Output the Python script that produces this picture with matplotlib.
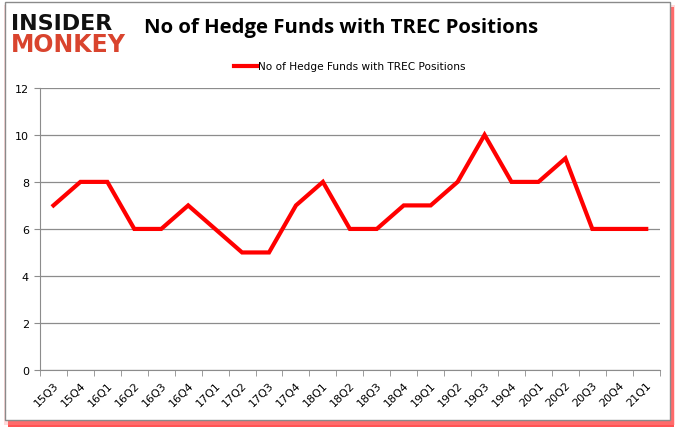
import matplotlib.pyplot as plt
from matplotlib.patches import Rectangle

quarters = ['15Q3', '15Q4', '16Q1', '16Q2', '16Q3', '16Q4', '17Q1', '17Q2',
            '17Q3', '17Q4', '18Q1', '18Q2', '18Q3', '18Q4', '19Q1', '19Q2',
            '19Q3', '19Q4', '20Q1', '20Q2', '20Q3', '20Q4', '21Q1']
funds = [7, 8, 8, 6, 6, 7, 6, 5, 5, 7, 8, 6, 6, 7, 7, 8, 10, 8, 8, 9, 6, 6, 6]
y_ticks = [0, 2, 4, 6, 8, 10, 12]

series_name = 'No of Hedge Funds with TREC Positions'

fig = plt.figure(figsize=(6.78, 4.31), dpi=100)
fig.patch.set_facecolor('white')

# frame with red shadow, like the original export
fig.patches.append(Rectangle((0.012, 0.006), 0.982, 0.975, transform=fig.transFigure,
                             facecolor='#ff1a1a', edgecolor='none', alpha=0.75, zorder=0))
fig.patches.append(Rectangle((0.006, 0.012), 0.990, 0.975, transform=fig.transFigure,
                             facecolor='#ff9a9a', edgecolor='none', alpha=0.35, zorder=0))
fig.patches.append(Rectangle((0.007, 0.023), 0.981, 0.970, transform=fig.transFigure,
                             facecolor='white', edgecolor='#8a8a8a', linewidth=1.0, zorder=1))

ax = fig.add_axes([0.059, 0.139, 0.914, 0.655])
ax.set_zorder(2)
x = list(range(len(quarters)))
ax.plot(x, funds, color='#ff0000', linewidth=3, label=series_name, solid_joinstyle='miter')

ax.set_xlim(-0.5, len(quarters) - 0.5)
ax.set_ylim(0, 12)
ax.set_yticks(y_ticks)
ax.set_yticklabels([str(v) for v in y_ticks], fontsize=8, family='DejaVu Sans')
ax.yaxis.grid(True, color='#8c8c8c', linewidth=0.9)
ax.set_axisbelow(True)

ax.set_xticks(x)
ax.set_xticklabels(quarters, rotation=45, ha='right', rotation_mode='anchor', fontsize=8)
ax.set_xticks([i - 0.5 for i in range(len(quarters) + 1)], minor=True)
ax.tick_params(axis='x', which='major', length=0, pad=7)
ax.tick_params(axis='x', which='minor', length=4, color='#8c8c8c')
ax.tick_params(axis='y', length=4, color='#8c8c8c', pad=4)

for side in ['top', 'right']:
    ax.spines[side].set_visible(False)
for side in ['left', 'bottom']:
    ax.spines[side].set_color('#8c8c8c')

ax.legend(loc='lower center', bbox_to_anchor=(0.5, 1.025), frameon=False, fontsize=7.6,
          handlelength=2.2, handletextpad=0.1)

fig.text(0.503, 0.935, 'No of Hedge Funds with TREC Positions', ha='center', va='center',
         fontsize=14.7, fontweight='bold', family='Open Sans', zorder=3)

# logo
fig.text(0.016, 0.945, 'INSIDER', ha='left', va='center', fontsize=16, fontweight='black',
         family='DejaVu Sans', color='#111111', zorder=3)
fig.text(0.016, 0.895, 'MONKEY', ha='left', va='center', fontsize=17, fontweight='black',
         family='DejaVu Sans', color='#d9442e', zorder=3)

fig.savefig('out.png', dpi=100)
